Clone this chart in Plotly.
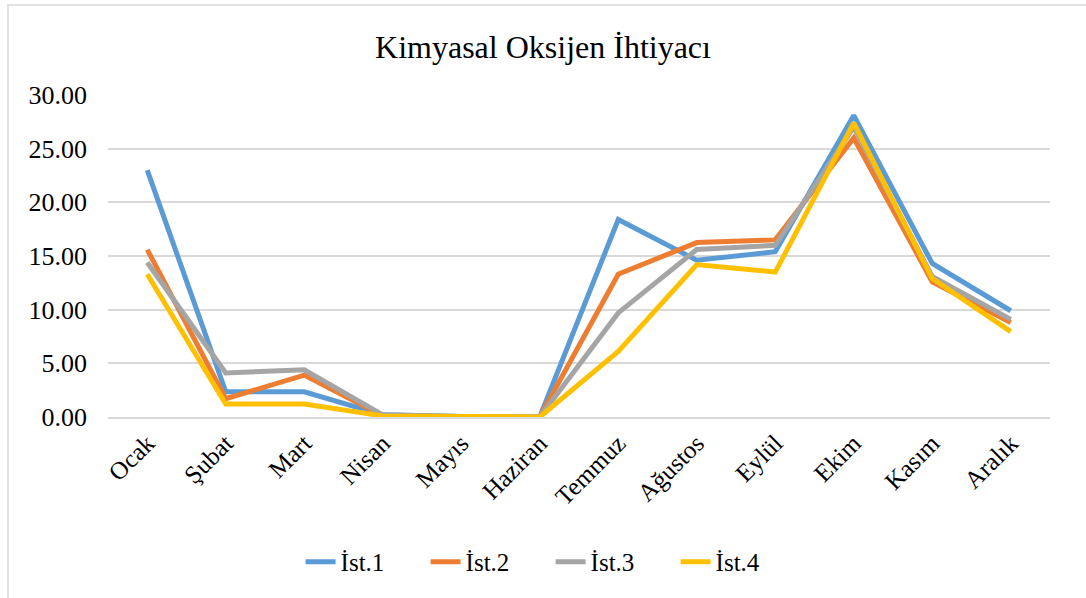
import plotly.graph_objects as go

months = ["Ocak", "Şubat", "Mart", "Nisan", "Mayıs", "Haziran", "Temmuz",
          "Ağustos", "Eylül", "Ekim", "Kasım", "Aralık"]
ist1 = [23.0, 2.35, 2.35, 0.2, 0.05, 0.0, 18.4, 14.6, 15.4, 28.1, 14.3, 9.9]
ist2 = [15.6, 1.7, 3.9, 0.1, 0.05, 0.0, 13.3, 16.25, 16.5, 26.0, 12.6, 8.8]
ist3 = [14.4, 4.1, 4.4, 0.2, 0.05, 0.0, 9.7, 15.6, 16.0, 27.0, 13.1, 9.1]
ist4 = [13.3, 1.2, 1.2, 0.1, 0.05, 0.0, 6.1, 14.2, 13.5, 27.4, 12.9, 7.95]
names = ["İst.1", "İst.2", "İst.3", "İst.4"]
colors = ["#5B9BD5", "#ED7D31", "#A5A5A5", "#FFC000"]

fig = go.Figure()
for n, v, c in zip(names, [ist1, ist2, ist3, ist4], colors):
    fig.add_trace(go.Scatter(x=months, y=v, name=n, mode="lines",
                             line=dict(color=c, width=5)))

font = "Liberation Serif"
fig.update_layout(
    width=1086, height=598,
    paper_bgcolor="white", plot_bgcolor="white",
    margin=dict(l=108, r=36, t=95, b=181, autoexpand=False),
    title=dict(text="Kimyasal Oksijen İhtiyacı", x=0.5, xanchor="center",
               xref="container", y=1 - 47 / 598, yanchor="middle",
               font=dict(family=font, size=32, color="black")),
    font=dict(family=font, size=25, color="black"),
    showlegend=True,
    legend=dict(orientation="h", xref="container", x=0.507, xanchor="center",
                y=-0.45, yanchor="middle",
                font=dict(family=font, size=25, color="black"),
                entrywidth=80, entrywidthmode="pixels",
                tracegroupgap=0),
    xaxis=dict(showgrid=False, showline=True, linecolor="#D9D9D9", linewidth=1.5,
               range=[-0.5, 11.5], tickangle=-45, ticks="", automargin=False,
               tickfont=dict(family=font, size=25)),
    yaxis=dict(range=[0, 30], dtick=5, tickformat=".2f", showgrid=True,
               gridcolor="#D9D9D9", gridwidth=1.5, zeroline=False, showline=False,
               ticks="", automargin=False, ticklabelstandoff=20,
               tickfont=dict(family=font, size=26)),
    shapes=[dict(type="rect", xref="paper", yref="paper",
                 x0=-100 / 942, x1=1034 / 942, y0=-190 / 322, y1=90 / 322 + 1,
                 line=dict(color="#D9D9D9", width=1.5))]
)
fig.write_html("out.html", config={"displayModeBar": False},
               post_script="document.body.style.margin='0';document.body.style.overflow='hidden';")
